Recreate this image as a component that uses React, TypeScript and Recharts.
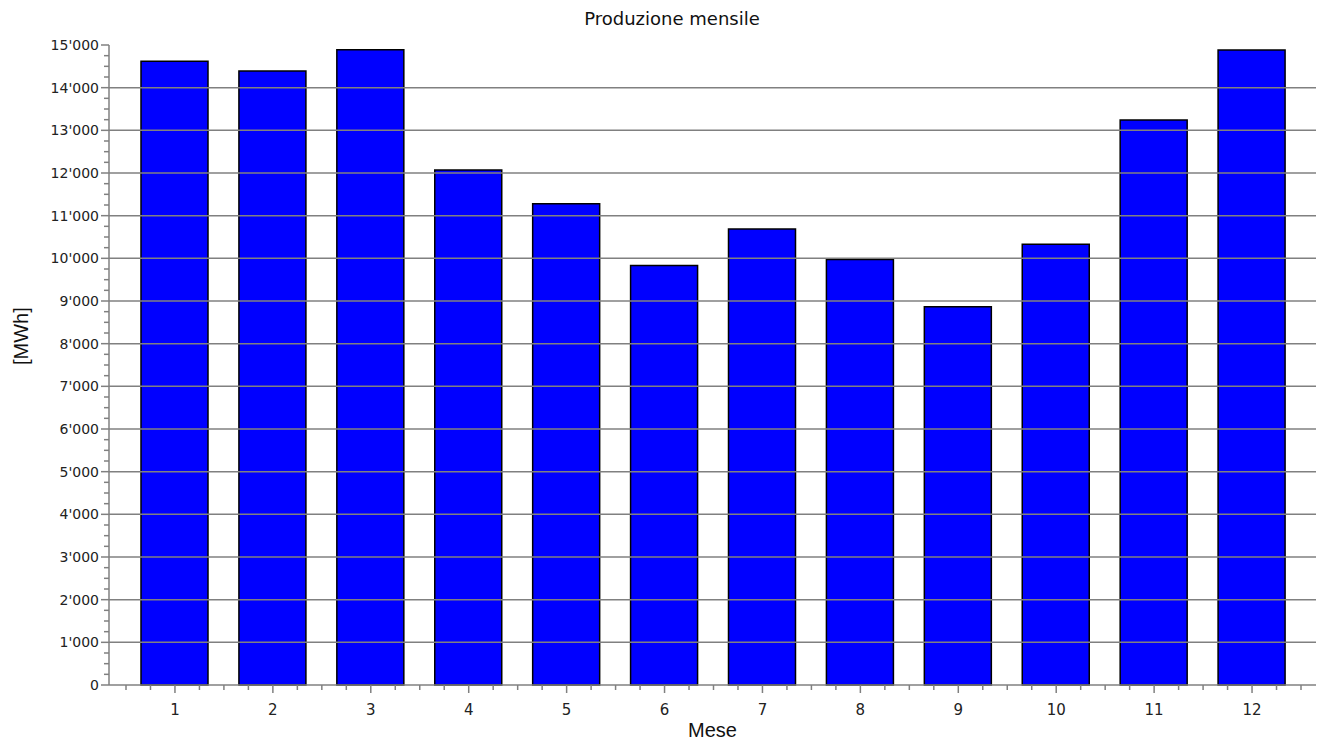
import { Bar, BarChart, ReferenceLine, XAxis, YAxis } from "recharts";

const months = [1, 2, 3, 4, 5, 6, 7, 8, 9, 10, 11, 12];
const production = [
  14620, 14390, 14890, 12070, 11280, 9830, 10690, 9970, 8865, 10330, 13240, 14880,
];
const majorTicks = [
  0, 1000, 2000, 3000, 4000, 5000, 6000, 7000, 8000, 9000, 10000, 11000, 12000,
  13000, 14000, 15000,
];
const gridValues = majorTicks.filter((v) => v > 0 && v < 15000);

// quarter steps between the labelled thousands
const yTicks = majorTicks.flatMap((v) =>
  v < 15000 ? [v, v + 250, v + 500, v + 750] : [v]
);
// quarter steps along the months, labels drawn on the whole numbers
const xTicks = months.flatMap((m) =>
  m < 12
    ? [m - 0.5, m - 0.25, m, m + 0.25]
    : [m - 0.5, m - 0.25, m, m + 0.25, m + 0.5]
);

const data = months.map((m, i) => ({ month: m, value: production[i] }));

const AXIS = "#808080";
const TICK_FONT = "DejaVu Sans, Verdana, sans-serif";
const LABEL_FONT = "Liberation Sans, Arial, sans-serif";

function formatThousands(v: number) {
  return String(v).replace(/\B(?=(\d{3})+(?!\d))/g, "'");
}

function YTick(props: any) {
  const { x, y, payload } = props;
  const major = payload.value % 1000 === 0;
  const axisX = x + 10;
  return (
    <g>
      <line
        x1={major ? axisX - 8 : axisX - 5}
        x2={axisX}
        y1={y}
        y2={y}
        stroke={AXIS}
        strokeWidth={1.5}
      />
      {major && (
        <text
          x={x}
          y={y}
          dy="0.35em"
          textAnchor="end"
          fontSize={14}
          fontFamily={TICK_FONT}
          fill="#222"
        >
          {formatThousands(payload.value)}
        </text>
      )}
    </g>
  );
}

function XTick(props: any) {
  const { x, y, payload } = props;
  const major = Number.isInteger(payload.value);
  if (!major) {
    return (
      <line x1={x} x2={x} y1={y - 1} y2={y + 4} stroke={AXIS} strokeWidth={1.5} />
    );
  }
  return (
    <text
      x={x}
      y={y + 29}
      textAnchor="middle"
      fontSize={15}
      fontFamily={TICK_FONT}
      fill="#222"
    >
      {payload.value}
    </text>
  );
}

function NoLabel() {
  return <g />;
}

export default function App() {
  return (
    <div
      style={{
        position: "absolute",
        left: 0,
        top: 0,
        width: 1324,
        height: 742,
        background: "#fff",
      }}
    >
      <div
        style={{
          position: "absolute",
          top: 9,
          left: 0,
          width: 1344,
          textAlign: "center",
          fontFamily: TICK_FONT,
          fontSize: 18,
          lineHeight: "20px",
          color: "#111",
        }}
      >
        Produzione mensile
      </div>
      <BarChart
        width={1324}
        height={742}
        data={data}
        margin={{ top: 45, right: 8, left: 0, bottom: 26 }}
        barSize={67}
      >
        <XAxis
          dataKey="month"
          type="category"
          padding={{ left: 17, right: 15 }}
          height={1}
          interval={0}
          tickSize={8}
          tick={<NoLabel />}
          tickLine={{ stroke: AXIS, strokeWidth: 1.5 }}
          axisLine={{ stroke: AXIS, strokeWidth: 1.5 }}
        />
        <XAxis
          xAxisId="minor"
          type="number"
          dataKey="month"
          domain={[0.5, 12.5]}
          padding={{ left: 17, right: 15 }}
          ticks={xTicks}
          interval={0}
          height={30}
          tick={<XTick />}
          tickSize={0}
          tickMargin={0}
          tickLine={false}
          axisLine={false}
          allowDataOverflow
          label={{
            value: "Mese",
            position: "bottom",
            offset: 7,
            fontSize: 20,
            fontFamily: LABEL_FONT,
            fill: "#111",
          }}
        />
        <YAxis
          type="number"
          domain={[0, 15000]}
          ticks={yTicks}
          interval={0}
          width={109}
          tickSize={8}
          tickMargin={2}
          tickLine={false}
          tick={<YTick />}
          axisLine={{ stroke: AXIS, strokeWidth: 1.5 }}
          label={{
            value: "[MWh]",
            angle: -90,
            position: "insideLeft",
            offset: 21,
            fontSize: 20,
            fontFamily: LABEL_FONT,
            fill: "#111",
          }}
        />
        <Bar
          dataKey="value"
          fill="#0000ff"
          stroke="#000"
          strokeWidth={1.5}
          isAnimationActive={false}
        />
        {gridValues.map((v) => (
          <ReferenceLine
            key={v}
            y={v}
            stroke={AXIS}
            strokeWidth={1.5}
            ifOverflow="extendDomain"
          />
        ))}
      </BarChart>
    </div>
  );
}
